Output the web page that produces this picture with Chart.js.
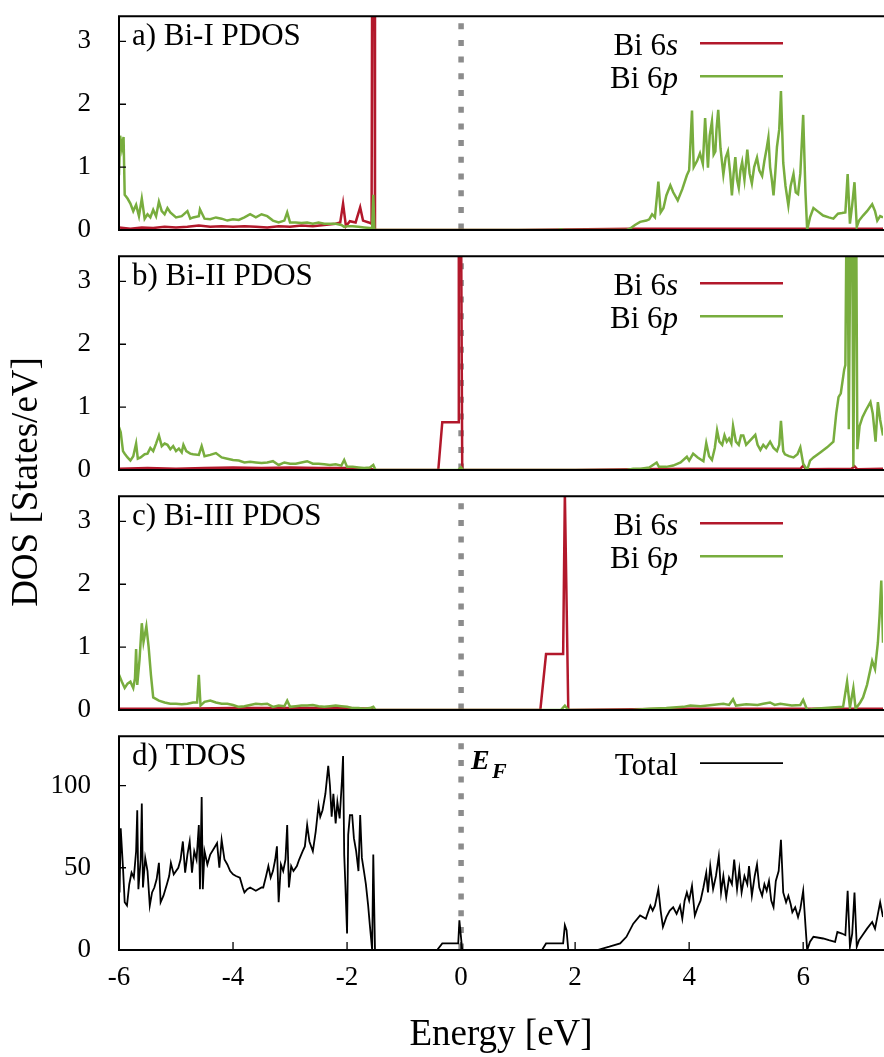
<!DOCTYPE html>
<html lang="en">
<head>
<meta charset="UTF-8">
<title>Bi PDOS / TDOS</title>
<style>
  body { margin: 0; background: #fff; }
  #wrap { position: relative; width: 884px; height: 1057px; overflow: hidden; font-family: 'Liberation Serif', 'Times New Roman', serif; }
  #wrap canvas { position: absolute; left: 0; }
  #ylab { position: absolute; left: -175px; top: 460px; width: 400px; height: 44px; line-height: 44px;
          text-align: center; font-size: 37px; color: #000; transform: rotate(-90deg); white-space: nowrap; }
</style>
</head>
<body>
<div id="wrap">
  <canvas id="pa" width="884" height="250" style="top:0px"></canvas>
  <canvas id="pb" width="884" height="250" style="top:240px"></canvas>
  <canvas id="pc" width="884" height="250" style="top:480px"></canvas>
  <canvas id="pd" width="884" height="337" style="top:720px"></canvas>
  <div id="ylab">DOS [States/eV]</div>
</div>

<script src="https://cdn.jsdelivr.net/npm/chart.js"></script>
<script>
// ---- data (energy in eV, DOS in states/eV) ----
// a) Bi-I
const aSE = [-6.0,-5.8,-5.6,-5.4,-5.2,-5.0,-4.8,-4.6,-4.4,-4.2,
             -4.0,-3.8,-3.6,-3.4,-3.2,-3.0,-2.8,-2.6,-2.4,-2.2,
             -2.12,-2.07,-2.02,-1.95,-1.85,-1.77,-1.72,-1.62,-1.57,-1.56,
             -1.52,-1.51,-1.45,1.0,3.0,4.0,5.0,6.0,7.0,7.4];
const aS  = [0.04,0.02,0.04,0.03,0.05,0.04,0.05,0.07,0.05,0.06,
             0.05,0.06,0.05,0.04,0.06,0.05,0.07,0.06,0.08,0.10,
             0.12,0.42,0.06,0.14,0.12,0.36,0.15,0.12,0.10,4.0,
             4.0,0.0,0.0,0.0,0.02,0.02,0.02,0.02,0.02,0.02];
const aPE = [-6.0,-5.98,-5.95,-5.92,-5.9,-5.85,-5.8,-5.75,-5.7,-5.65,
             -5.6,-5.55,-5.5,-5.45,-5.4,-5.35,-5.3,-5.25,-5.2,-5.15,
             -5.1,-5.0,-4.9,-4.8,-4.75,-4.7,-4.6,-4.58,-4.5,-4.4,
             -4.3,-4.2,-4.1,-4.0,-3.9,-3.8,-3.7,-3.6,-3.5,-3.4,
             -3.3,-3.2,-3.1,-3.05,-3.0,-2.9,-2.8,-2.7,-2.6,-2.5,
             -2.4,-2.3,-2.2,-2.1,-2.05,-2.0,-1.9,-1.8,-1.7,-1.6,
             -1.56,-1.54,-1.52,1.7,1.75,1.8,2.9,2.96,3.05,3.14,
             3.25,3.3,3.35,3.4,3.46,3.5,3.55,3.6,3.67,3.72,
             3.8,3.88,3.96,4.0,4.05,4.08,4.14,4.19,4.24,4.28,
             4.33,4.36,4.4,4.43,4.46,4.48,4.51,4.55,4.6,4.64,
             4.68,4.72,4.75,4.78,4.81,4.84,4.87,4.9,4.93,4.97,
             5.02,5.06,5.1,5.14,5.19,5.23,5.28,5.32,5.36,5.39,
             5.42,5.45,5.48,5.51,5.54,5.58,5.61,5.65,5.69,5.74,
             5.78,5.83,5.87,5.91,5.95,6.0,6.04,6.07,6.12,6.18,
             6.25,6.35,6.45,6.53,6.61,6.68,6.74,6.78,6.82,6.86,
             6.9,6.94,6.98,7.05,7.12,7.21,7.26,7.3,7.35,7.4];
const aP  = [0.87,1.5,1.3,1.48,0.56,0.5,0.42,0.3,0.4,0.22,
             0.5,0.18,0.25,0.2,0.32,0.22,0.45,0.3,0.25,0.35,
             0.28,0.2,0.22,0.3,0.18,0.2,0.22,0.33,0.18,0.17,
             0.2,0.18,0.15,0.17,0.16,0.2,0.25,0.2,0.25,0.22,
             0.15,0.12,0.15,0.28,0.12,0.12,0.11,0.12,0.1,0.12,
             0.1,0.1,0.1,0.08,0.05,0.06,0.06,0.05,0.04,0.03,
             0.03,0.56,0.0,0.0,0.01,0.0,0.0,0.02,0.08,0.13,
             0.15,0.17,0.25,0.2,0.77,0.28,0.35,0.55,0.71,0.6,
             0.47,0.65,0.87,0.95,1.9,1.0,1.1,1.22,1.05,1.78,
             0.99,1.5,1.73,1.2,1.25,1.6,1.91,1.3,0.88,1.15,
             1.25,0.9,0.55,0.9,1.16,0.8,0.67,0.95,1.08,0.8,
             1.28,0.9,0.74,1.0,1.15,0.95,0.86,1.1,1.3,1.47,
             1.0,0.8,0.55,0.9,1.32,1.6,2.21,1.07,0.7,0.39,
             0.7,0.89,0.6,0.57,0.9,1.83,0.6,0.0,0.2,0.35,
             0.3,0.23,0.2,0.18,0.26,0.27,0.28,0.89,0.1,0.4,
             0.76,0.05,0.15,0.23,0.3,0.41,0.3,0.15,0.22,0.2];

// b) Bi-II
const bSE = [-6.0,-5.5,-5.0,-4.5,-4.0,-3.5,-3.0,-2.5,-2.0,-1.6,
             -1.5,-0.4,-0.33,-0.05,-0.04,0.0,0.02,2.0,3.0,4.0,
             5.0,5.95,6.0,6.05,6.85,6.9,6.95,7.4];
const bS  = [0.02,0.03,0.02,0.03,0.04,0.03,0.04,0.03,0.03,0.02,
             0.0,0.0,0.76,0.76,4.0,4.0,0.0,0.0,0.01,0.02,
             0.02,0.02,0.07,0.01,0.02,0.06,0.01,0.02];
const bPE = [-6.0,-5.97,-5.93,-5.9,-5.85,-5.8,-5.75,-5.7,-5.67,-5.62,
             -5.55,-5.5,-5.45,-5.4,-5.35,-5.3,-5.25,-5.2,-5.15,-5.1,
             -5.05,-5.0,-4.95,-4.9,-4.87,-4.82,-4.75,-4.7,-4.6,-4.55,
             -4.5,-4.4,-4.3,-4.2,-4.1,-4.0,-3.9,-3.8,-3.7,-3.6,
             -3.5,-3.4,-3.3,-3.2,-3.1,-3.0,-2.9,-2.8,-2.7,-2.6,
             -2.5,-2.4,-2.3,-2.2,-2.1,-2.05,-2.0,-1.9,-1.8,-1.7,
             -1.6,-1.54,-1.5,-0.05,0.0,0.03,2.9,3.02,3.15,3.3,
             3.43,3.47,3.6,3.72,3.85,3.96,4.0,4.07,4.15,4.25,
             4.3,4.35,4.4,4.45,4.49,4.53,4.58,4.62,4.66,4.7,
             4.74,4.77,4.82,4.87,4.91,4.95,5.0,5.05,5.1,5.16,
             5.2,5.25,5.3,5.35,5.42,5.48,5.54,5.58,5.61,5.65,
             5.68,5.75,5.83,5.9,5.95,6.0,6.07,6.12,6.18,6.3,
             6.42,6.53,6.58,6.62,6.66,6.72,6.74,6.76,6.78,6.8,
             6.83,6.86,6.88,6.91,6.93,6.95,6.99,7.04,7.1,7.18,
             7.22,7.27,7.31,7.35,7.4];
const bP  = [0.68,0.6,0.3,0.26,0.2,0.15,0.22,0.42,0.18,0.2,
             0.25,0.26,0.35,0.3,0.42,0.55,0.38,0.42,0.4,0.33,
             0.38,0.3,0.34,0.28,0.4,0.3,0.26,0.25,0.24,0.38,
             0.22,0.24,0.27,0.2,0.18,0.16,0.15,0.12,0.13,0.12,
             0.11,0.12,0.14,0.08,0.12,0.1,0.1,0.12,0.14,0.1,
             0.1,0.09,0.08,0.09,0.07,0.16,0.05,0.05,0.04,0.03,
             0.04,0.08,0.0,0.0,0.04,0.0,0.0,0.02,0.02,0.04,
             0.12,0.05,0.05,0.07,0.12,0.21,0.15,0.26,0.2,0.14,
             0.43,0.22,0.16,0.35,0.63,0.45,0.4,0.55,0.45,0.5,
             0.42,0.7,0.45,0.4,0.55,0.55,0.4,0.45,0.5,0.56,
             0.4,0.32,0.4,0.35,0.45,0.35,0.3,0.4,0.78,0.3,
             0.25,0.22,0.2,0.25,0.36,0.1,0.0,0.15,0.2,0.28,
             0.36,0.45,0.9,1.16,1.22,1.6,1.67,4.0,4.0,0.65,
             4.0,4.0,0.05,4.0,4.0,0.33,0.7,0.84,0.95,1.08,
             0.9,0.45,1.08,0.8,0.55];

// c) Bi-III
const cSE = [-6.0,-5.0,-4.0,-3.0,-2.0,-1.6,-1.5,1.39,1.49,1.79,
             1.82,1.88,3.0,4.0,5.0,6.0,7.0,7.4];
const cS  = [0.02,0.02,0.03,0.03,0.03,0.02,0.0,0.0,0.89,0.89,
             3.45,0.0,0.01,0.02,0.02,0.02,0.02,0.02];
const cPE = [-6.0,-5.95,-5.9,-5.85,-5.8,-5.75,-5.72,-5.7,-5.68,-5.64,
             -5.6,-5.57,-5.52,-5.48,-5.44,-5.4,-5.3,-5.2,-5.1,-5.0,
             -4.9,-4.8,-4.7,-4.63,-4.6,-4.57,-4.5,-4.4,-4.3,-4.2,
             -4.1,-4.0,-3.9,-3.8,-3.7,-3.6,-3.5,-3.4,-3.3,-3.2,
             -3.1,-3.05,-3.0,-2.9,-2.8,-2.7,-2.6,-2.5,-2.4,-2.3,
             -2.2,-2.1,-2.0,-1.9,-1.8,-1.7,-1.6,-1.54,-1.5,1.75,
             1.82,1.88,3.0,3.3,3.6,3.9,4.02,4.2,4.4,4.6,
             4.7,4.77,4.82,5.0,5.2,5.3,5.42,5.5,5.6,5.8,
             5.95,6.0,6.07,6.2,6.5,6.7,6.77,6.82,6.88,6.92,
             7.0,7.05,7.12,7.18,7.21,7.26,7.31,7.34,7.37,7.4];
const cP  = [0.56,0.45,0.35,0.42,0.45,0.35,0.5,0.97,0.4,0.8,
             1.38,1.08,1.33,1.0,0.56,0.2,0.15,0.12,0.1,0.1,
             0.09,0.1,0.12,0.12,0.56,0.07,0.13,0.15,0.12,0.1,
             0.1,0.08,0.05,0.06,0.08,0.1,0.09,0.1,0.05,0.07,
             0.06,0.15,0.05,0.06,0.07,0.07,0.08,0.06,0.05,0.06,
             0.07,0.06,0.05,0.03,0.03,0.02,0.03,0.05,0.0,0.0,
             0.07,0.0,0.0,0.02,0.03,0.05,0.07,0.06,0.08,0.1,
             0.08,0.17,0.07,0.09,0.08,0.1,0.12,0.08,0.1,0.07,
             0.08,0.16,0.0,0.02,0.04,0.05,0.45,0.04,0.35,0.02,
             0.12,0.2,0.4,0.65,0.78,0.65,1.07,1.5,2.06,1.07];

// d) total DOS
const tE = [-6.0,-5.99,-5.97,-5.93,-5.9,-5.86,-5.82,-5.78,-5.74,-5.7,
            -5.68,-5.66,-5.62,-5.6,-5.58,-5.54,-5.5,-5.46,-5.42,-5.38,
            -5.34,-5.3,-5.27,-5.22,-5.16,-5.12,-5.09,-5.04,-4.96,-4.92,
            -4.88,-4.84,-4.8,-4.76,-4.72,-4.68,-4.64,-4.6,-4.58,-4.55,
            -4.53,-4.5,-4.45,-4.4,-4.33,-4.28,-4.24,-4.2,-4.15,-4.1,
            -4.05,-4.0,-3.95,-3.88,-3.83,-3.8,-3.75,-3.7,-3.6,-3.5,
            -3.47,-3.42,-3.38,-3.34,-3.3,-3.26,-3.23,-3.2,-3.16,-3.12,
            -3.08,-3.05,-3.02,-2.98,-2.94,-2.88,-2.84,-2.78,-2.74,-2.7,
            -2.66,-2.6,-2.55,-2.5,-2.47,-2.43,-2.38,-2.33,-2.3,-2.27,
            -2.24,-2.2,-2.17,-2.13,-2.09,-2.07,-2.05,-2.03,-2.0,-1.98,
            -1.95,-1.91,-1.88,-1.84,-1.8,-1.77,-1.74,-1.7,-1.67,-1.63,
            -1.6,-1.56,-1.54,-1.51,-0.42,-0.33,-0.05,-0.03,0.02,1.42,
            1.49,1.79,1.82,1.85,1.88,2.39,2.6,2.79,2.9,3.02,
            3.14,3.24,3.32,3.36,3.4,3.46,3.5,3.54,3.6,3.66,
            3.72,3.78,3.84,3.88,3.92,3.96,4.0,4.05,4.1,4.15,
            4.2,4.25,4.3,4.33,4.37,4.42,4.47,4.52,4.56,4.6,
            4.65,4.7,4.75,4.79,4.84,4.88,4.92,4.97,5.02,5.05,
            5.1,5.15,5.19,5.23,5.28,5.32,5.36,5.4,5.44,5.48,
            5.52,5.57,5.61,5.65,5.7,5.74,5.78,5.81,5.86,5.91,
            5.95,6.0,6.04,6.07,6.12,6.18,6.35,6.45,6.56,6.6,
            6.68,6.74,6.78,6.82,6.86,6.9,6.94,6.98,7.04,7.12,
            7.21,7.26,7.3,7.35,7.4];
const tot = [74,35,74,50,29,27,40,47,44,60,
             85,37,55,89,38,56,48,27,35,38,
             43,53,29,33,40,45,53,46,50,55,
             66,47,58,66,47,60,55,76,37,93,
             37,60,52,58,62,65,50,67,55,52,
             48,46,45,44,38,35,37,38,36,38,
             38,45,51,44,48,55,63,29,52,48,
             55,76,38,51,48,51,55,60,63,76,
             66,60,72,88,81,85,95,112,100,81,
             95,77,90,80,103,118,58,40,10,70,
             82,82,68,60,48,82,56,47,40,27,
             15,0,58,0,0,4,4,18,0,0,
             4,4,15,12,0,0,2,4,8,16,
             21,19,27,24,27,37,24,14,20,24,
             26,22,27,19,30,35,30,39,21,26,
             30,38,47,35,51,37,45,57,35,45,
             32,44,40,55,37,49,35,45,40,51,
             33,45,52,38,33,40,36,42,30,26,
             42,48,67,35,29,33,28,23,26,20,
             25,36,15,0,5,8,7,6,5,11,
             10,9,36,2,10,35,2,6,9,13,
             17,13,20,29,20];

// ---- axes: tick positions and which of them carry a label ----
const xRange = [-6, 7.4];
const xTickVals = [-6, -5, -4, -3, -2, -1, 0, 1, 2, 3, 4, 5, 6, 7];
const xLabelVals = [-6, -4, -2, 0, 2, 4, 6];
const pdosMax = 3.4;
const pdosTickVals = [0, 0.5, 1, 1.5, 2, 2.5, 3];
const pdosLabelVals = [0, 1, 2, 3];
const tdosMax = 130;
const tdosTickVals = [0, 25, 50, 75, 100, 125];
const tdosLabelVals = [0, 50, 100];

const RED = '#b2182b';
const GREEN = '#78ad3e';
const FONT = "'Liberation Serif', 'Times New Roman', serif";
const NONE = 'rgba(0,0,0,0)';

function pts(xs, ys) { return xs.map((x, i) => ({ x: x, y: ys[i] })); }
function setTicks(vals) { return s => { s.ticks = vals.map(v => ({ value: v })); }; }

// frame, inward ticks, Fermi level, panel label and key
const decor = {
  id: 'decor',
  beforeDatasetsDraw(chart) {
    const { ctx, chartArea: a, scales: { x } } = chart;
    const x0 = x.getPixelForValue(0);
    ctx.save();
    ctx.strokeStyle = '#8c8c8c';
    ctx.lineWidth = 5.5;
    ctx.setLineDash([6, 10.7]);
    ctx.beginPath();
    ctx.moveTo(x0, a.top + 7);
    ctx.lineTo(x0, a.bottom);
    ctx.stroke();
    ctx.restore();
  },
  afterDatasetsDraw(chart, args, o) {
    const { ctx, chartArea: a, scales: { x, y } } = chart;
    ctx.save();
    ctx.strokeStyle = '#000';
    ctx.lineWidth = 2;
    ctx.beginPath();
    ctx.moveTo(a.right + 2, a.top);
    ctx.lineTo(a.left, a.top);
    ctx.lineTo(a.left, a.bottom);
    ctx.lineTo(a.right + 2, a.bottom);
    ctx.stroke();

    ctx.lineWidth = 1.3;
    ctx.beginPath();
    x.ticks.forEach(t => {
      const px = x.getPixelForValue(t.value);
      ctx.moveTo(px, a.bottom);
      ctx.lineTo(px, a.bottom - 8);
    });
    y.ticks.forEach(t => {
      const py = y.getPixelForValue(t.value);
      ctx.moveTo(a.left, py);
      ctx.lineTo(a.left + 7, py);
    });
    ctx.stroke();

    ctx.fillStyle = '#000';
    ctx.textAlign = 'left';
    ctx.textBaseline = 'alphabetic';
    ctx.font = `31px ${FONT}`;
    ctx.fillText(o.label, 132, a.top + 29);

    chart.data.datasets.forEach((ds, i) => {
      const yy = a.top + 27 + i * 33;
      ctx.strokeStyle = ds.borderColor;
      ctx.lineWidth = ds.borderWidth;
      ctx.beginPath();
      ctx.moveTo(700, yy);
      ctx.lineTo(783, yy);
      ctx.stroke();
      let head = ds.label, tail = '';
      if (o.italicTail) { tail = head.slice(-1); head = head.slice(0, -1); }
      ctx.font = `italic 31px ${FONT}`;
      const tw = ctx.measureText(tail).width;
      ctx.fillText(tail, 678 - tw, yy + 12);
      ctx.font = `31px ${FONT}`;
      const hw = ctx.measureText(head).width;
      ctx.fillText(head, 678 - tw - hw, yy + 12);
    });

    if (o.ef) {
      ctx.font = `bold italic 28px ${FONT}`;
      ctx.fillText('E', 471, a.top + 33);
      ctx.font = `bold italic 22px ${FONT}`;
      ctx.fillText('F', 492, a.top + 42);
    }
    ctx.restore();
  }
};

function makePanel(id, datasets, opts) {
  const ctx = document.getElementById(id).getContext('2d');
  const last = !!opts.xLabels;
  return new Chart(ctx, {
    type: 'line',
    data: { datasets: datasets },
    plugins: [decor],
    options: {
      responsive: false,
      animation: false,
      devicePixelRatio: 1,
      layout: { padding: { top: 6, left: 0, right: 1, bottom: 0 }, autoPadding: false },
      elements: { point: { radius: 0 }, line: { tension: 0, borderJoinStyle: 'miter' } },
      scales: {
        x: {
          type: 'linear', min: xRange[0], max: xRange[1],
          grid: { display: false, color: NONE, drawTicks: true, tickLength: 12 },
          border: { display: false },
          afterBuildTicks: setTicks(xTickVals),
          ticks: {
            display: last, autoSkip: false, maxRotation: 0,
            padding: 0, color: '#000', font: { family: FONT, size: 27 },
            callback: v => (last && xLabelVals.includes(v) ? String(v) : null)
          },
          title: {
            display: last, text: 'Energy [eV]', color: '#000',
            font: { family: FONT, size: 37 }, padding: { top: 0, bottom: 0 }
          },
          afterFit: s => { s.height = opts.xH; }
        },
        y: {
          min: 0, max: opts.yMax,
          grid: { display: false, color: NONE, drawTicks: true, tickLength: 28 },
          border: { display: false },
          afterBuildTicks: setTicks(opts.yTicks),
          ticks: {
            autoSkip: false, padding: 0, color: '#000', font: { family: FONT, size: 27 },
            callback: v => (opts.yLabels.includes(v) ? String(v) : null)
          },
          afterFit: s => { s.width = 119; }
        }
      },
      plugins: {
        legend: { display: false },
        tooltip: { enabled: false },
        decor: { label: opts.label, italicTail: opts.italicTail, ef: opts.ef }
      }
    }
  });
}

function pdosSets(sE, s, pE, p) {
  return [
    { label: 'Bi 6s', data: pts(sE, s), borderColor: RED, borderWidth: 2.5, order: 1 },
    { label: 'Bi 6p', data: pts(pE, p), borderColor: GREEN, borderWidth: 2.5, order: 0 }
  ];
}

const pdosAxis = { yMax: pdosMax, yTicks: pdosTickVals, yLabels: pdosLabelVals, xH: 20, italicTail: true };
makePanel('pa', pdosSets(aSE, aS, aPE, aP), Object.assign({ label: 'a) Bi-I PDOS' }, pdosAxis));
makePanel('pb', pdosSets(bSE, bS, bPE, bP), Object.assign({ label: 'b) Bi-II PDOS' }, pdosAxis));
makePanel('pc', pdosSets(cSE, cS, cPE, cP), Object.assign({ label: 'c) Bi-III PDOS' }, pdosAxis));
makePanel('pd', [
  { label: 'Total', data: pts(tE, tot), borderColor: '#000', borderWidth: 1.8 }
], { label: 'd) TDOS', yMax: tdosMax, yTicks: tdosTickVals, yLabels: tdosLabelVals,
     xH: 107, xLabels: true, ef: true });
</script>
</body>
</html>
